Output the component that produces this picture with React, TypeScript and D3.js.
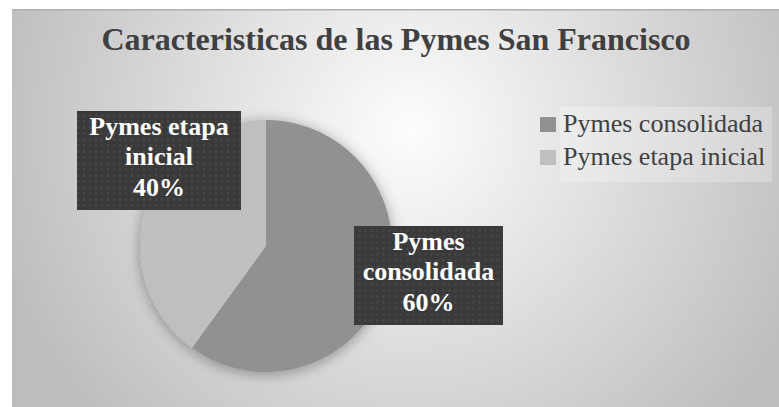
import React from 'react';
import * as d3 from 'd3';

const title = 'Caracteristicas de las Pymes San Francisco';
const categories = ['Pymes consolidada', 'Pymes etapa inicial'];
const values = [60, 40];
const sliceColors = ['#919191', '#bfbfbf'];
const labelLines = [
  ['Pymes', 'consolidada', '60%'],
  ['Pymes etapa', 'inicial', '40%'],
];

const W = 779;
const H = 407;
const SERIF = 'Liberation Serif, Tinos, DejaVu Serif, serif';

// layout of the data label boxes (centre x, centre y, width, height)
const labelBoxes = [
  { cx: 428.5, cy: 275.5, w: 149, h: 99 },
  { cx: 159, cy: 160.5, w: 164, h: 99 },
];

export default function App() {
  const cx = 266;
  const cy = 246;
  const radius = 126;

  const pie = d3.pie<number>().sort(null).value((d) => d);
  const arcs = pie(values);
  const arc = d3.arc<d3.PieArcDatum<number>>().innerRadius(0).outerRadius(radius);
  const total = d3.sum(values);
  const pct = d3.format('.0%');

  const legendY = d3.scaleBand<string>().domain(categories).range([115, 181]);

  return (
    <svg width={W} height={H} style={{ position: 'absolute', left: 0, top: 0 }}>
      <defs>
        <radialGradient id="bg" gradientUnits="userSpaceOnUse" cx={410} cy={130} r={430}>
          <stop offset="0" stopColor="#fdfdfd" />
          <stop offset="1" stopColor="#bdbdbd" />
        </radialGradient>
        <pattern id="dots" width={6} height={6} patternUnits="userSpaceOnUse">
          <rect width={6} height={6} fill="#3a3a3a" />
          <circle cx={3} cy={3} r={1.1} fill="#4d4d4d" />
        </pattern>
        <filter id="shadow" x="-30%" y="-30%" width="160%" height="160%">
          <feGaussianBlur in="SourceAlpha" stdDeviation={7} />
          <feOffset dx={0} dy={2} result="b" />
          <feComponentTransfer>
            <feFuncA type="linear" slope={0.35} />
          </feComponentTransfer>
          <feMerge>
            <feMergeNode />
            <feMergeNode in="SourceGraphic" />
          </feMerge>
        </filter>
      </defs>

      <rect x={0} y={0} width={W} height={H} fill="#ffffff" />
      <rect x={12} y={9} width={W} height={H} fill="url(#bg)" />
      <line x1={12} x2={W} y1={9.75} y2={9.75} stroke="#b0b0b0" strokeWidth={1.5} />

      <text
        x={396}
        y={50}
        textAnchor="middle"
        style={{ fontFamily: SERIF }}
        fontWeight="bold"
        fontSize={32}
        fill="#404040"
      >
        {title}
      </text>

      <g transform={`translate(${cx},${cy})`} filter="url(#shadow)">
        {arcs.map((a, i) => (
          <path key={categories[i]} d={arc(a) || ''} fill={sliceColors[i]} />
        ))}
      </g>

      {labelBoxes.map((b, i) => (
        <g key={categories[i]} transform={`translate(${b.cx},${b.cy})`}>
          <rect x={-b.w / 2} y={-b.h / 2} width={b.w} height={b.h} fill="url(#dots)" />
          <text
            textAnchor="middle"
            style={{ fontFamily: SERIF }}
            fontWeight="bold"
            fontSize={26}
            fill="#ffffff"
          >
            {labelLines[i].map((t, j) => (
              <tspan key={j} x={0} y={-26 + j * 30.5}>
                {j === 2 ? pct(values[i] / total) : t}
              </tspan>
            ))}
          </text>
        </g>
      ))}

      <rect x={560} y={107} width={212} height={75} fill="#ffffff" opacity={0.25} />
      {categories.map((c, i) => {
        const y = legendY(c) || 0;
        return (
          <g key={c} transform={`translate(540,${y})`}>
            <rect x={0} y={2} width={16} height={15} fill={sliceColors[i]} />
            <text x={23} y={17} style={{ fontFamily: SERIF }} fontSize={26} fill="#404040">
              {c}
            </text>
          </g>
        );
      })}
    </svg>
  );
}
